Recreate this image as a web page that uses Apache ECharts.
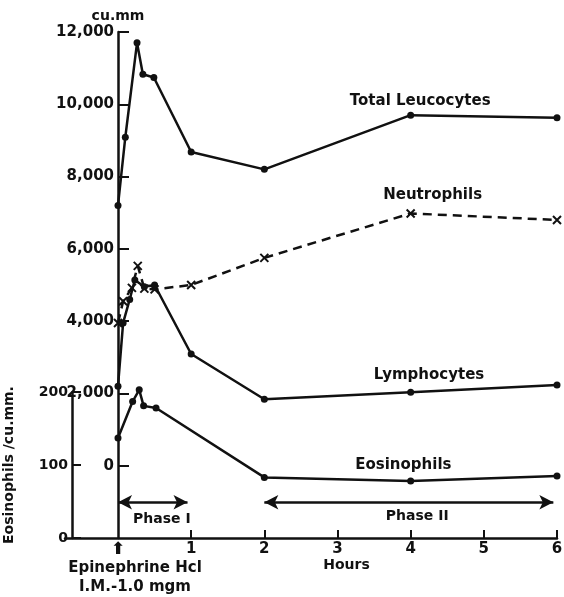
<!DOCTYPE html>
<html>
<head>
<meta charset="utf-8">
<script src="https://cdn.jsdelivr.net/npm/echarts@6/dist/echarts.min.js"></script>
<style>html,body{margin:0;padding:0;background:#fff;}#c{width:564px;height:597px;}</style>
</head>
<body>
<div id="c"></div>
<script>
// ---- data ----
const leucHours  = [0, 0.1, 0.26, 0.34, 0.49, 1, 2, 4, 6];
const leucocytes = [7200, 9090, 11700, 10830, 10740, 8680, 8200, 9700, 9630];

const neutHours   = [0, 0.07, 0.19, 0.27, 0.36, 0.5, 1, 2, 4, 6];
const neutrophils = [3950, 4550, 4920, 5530, 4900, 4880, 5000, 5750, 6980, 6800];

const lymphHours  = [0, 0.07, 0.16, 0.23, 0.36, 0.5, 1, 2, 4, 6];
const lymphocytes = [2200, 3950, 4600, 5140, 4950, 5000, 3090, 1840, 2030, 2230];

const eosHours    = [0, 0.2, 0.29, 0.35, 0.52, 2, 4, 6];
const eosinophils = [137, 187, 203, 181, 178, 83, 78, 85];

const mainTicks = [0, 2000, 4000, 6000, 8000, 10000, 12000];
const hourTicks = [1, 2, 3, 4, 5, 6];

const seriesLabels = ['Total Leucocytes', 'Neutrophils', 'Lymphocytes', 'Eosinophils'];
const phaseLabels  = ['Phase I', 'Phase II'];
const phaseRanges  = [[0, 0.95], [2, 5.95]];
const doseText     = ['Epinephrine Hcl', 'I.M.-1.0 mgm'];

const zip = (xs, ys) => xs.map((x, i) => [x, ys[i]]);
const FONT = 'DejaVu Sans';
const black = '#111';

const labelPoint = (name, coord, size) => ({
  coord: coord,
  symbol: 'rect', symbolSize: 1,
  itemStyle: {color: 'rgba(0,0,0,0)'},
  label: {show: true, position: 'inside', formatter: name, color: black,
          fontFamily: FONT, fontWeight: 'bold', fontSize: size || 15}
});

const lineBase = {
  type: 'line', symbol: 'circle', symbolSize: 7,
  lineStyle: {color: black, width: 2.5},
  itemStyle: {color: black},
  silent: true
};

const chart = echarts.init(document.getElementById('c'), null, {renderer: 'canvas'});
chart.setOption({
  animation: false,
  backgroundColor: '#fff',
  grid: [
    {left: 65, right: 7, top: 32, bottom: 59, outerBoundsMode: 'none'},
    {left: 72, right: 7, top: 392, bottom: 59, outerBoundsMode: 'none'}
  ],
  xAxis: [
    {
      gridIndex: 0, type: 'value', min: -0.7244, max: 6,
      splitLine: {show: false},
      axisLine: {onZero: false, lineStyle: {color: black, width: 2.5}},
      axisTick: {show: true, inside: true, length: 8, customValues: hourTicks,
                 lineStyle: {color: black, width: 2}},
      axisLabel: {
        customValues: [0].concat(hourTicks),
        margin: 3, color: black, fontFamily: FONT, fontWeight: 'bold', fontSize: 15,
        lineHeight: 16,
        formatter: function (v) {
          if (v === 0) return '{ar|⬆}';
          if (v === 3) return '3\n{h|Hours}';
          return String(v);
        },
        rich: {
          ar: {fontSize: 17, fontWeight: 'bold', lineHeight: 17, color: black, fontFamily: FONT},
          h:  {fontSize: 14, fontWeight: 'bold', lineHeight: 16, color: black, fontFamily: FONT,
               padding: [0, 0, 0, 18]}
        }
      }
    },
    {
      gridIndex: 1, type: 'value', min: -0.6287, max: 6,
      splitLine: {show: false}, axisLine: {show: false}, axisTick: {show: false},
      axisLabel: {
        customValues: [0.232], margin: 21, color: black,
        fontFamily: FONT, fontWeight: 'bold', fontSize: 15, lineHeight: 19,
        formatter: () => doseText.join('\n')
      }
    }
  ],
  yAxis: [
    {
      gridIndex: 0, type: 'value', min: -2000, max: 12000, offset: -53,
      name: 'cu.mm', nameLocation: 'end', nameGap: 9,
      nameTextStyle: {color: black, fontFamily: FONT, fontWeight: 'bold', fontSize: 14},
      splitLine: {show: false},
      axisLine: {onZero: false, lineStyle: {color: black, width: 2.5}},
      axisTick: {inside: true, length: 11, customValues: mainTicks,
                 lineStyle: {color: black, width: 2}},
      axisLabel: {
        customValues: mainTicks, margin: 4, color: black,
        fontFamily: FONT, fontWeight: 'bold', fontSize: 15,
        formatter: v => v.toLocaleString('en-US')
      }
    },
    {
      gridIndex: 1, type: 'value', min: 0, max: 200, interval: 100,
      name: 'Eosinophils /cu.mm.', nameLocation: 'middle', nameRotate: 90, nameGap: 56,
      nameTextStyle: {color: black, fontFamily: FONT, fontWeight: 'bold', fontSize: 14},
      splitLine: {show: false},
      axisLine: {onZero: false, lineStyle: {color: black, width: 2.5}},
      axisTick: {inside: true, length: 9, lineStyle: {color: black, width: 2}},
      axisLabel: {margin: 4, color: black, fontFamily: FONT, fontWeight: 'bold', fontSize: 14}
    }
  ],
  series: [
    Object.assign({}, lineBase, {
      name: seriesLabels[0], xAxisIndex: 0, yAxisIndex: 0,
      data: zip(leucHours, leucocytes),
      markPoint: {silent: true, data: [labelPoint(seriesLabels[0], [4.13, 10090])]}
    }),
    Object.assign({}, lineBase, {
      name: seriesLabels[1], xAxisIndex: 0, yAxisIndex: 0,
      data: zip(neutHours, neutrophils),
      symbol: 'path://M0,0L10,10M10,0L0,10', symbolSize: 8,
      lineStyle: {color: black, width: 2.5, type: [9, 6]},
      itemStyle: {color: black, borderColor: black, borderWidth: 2},
      markPoint: {silent: true, data: [labelPoint(seriesLabels[1], [4.3, 7490])]}
    }),
    Object.assign({}, lineBase, {
      name: seriesLabels[2], xAxisIndex: 0, yAxisIndex: 0,
      data: zip(lymphHours, lymphocytes),
      markPoint: {silent: true, data: [labelPoint(seriesLabels[2], [4.25, 2510])]}
    }),
    Object.assign({}, lineBase, {
      name: seriesLabels[3], xAxisIndex: 1, yAxisIndex: 1, clip: false,
      data: zip(eosHours, eosinophils),
      markPoint: {silent: true, data: [
        labelPoint(seriesLabels[3], [3.9, 100]),
        labelPoint(phaseLabels[0], [0.6, 25], 14),
        labelPoint(phaseLabels[1], [4.09, 30], 14)
      ]},
      markLine: {
        silent: true, symbol: ['arrow', 'arrow'], symbolSize: [11, 14],
        lineStyle: {color: black, width: 2.5, type: 'solid'},
        itemStyle: {color: black},
        label: {show: false},
        data: phaseRanges.map(r => [{coord: [r[0], 49]}, {coord: [r[1], 49]}])
      }
    })
  ]
});
</script>
</body>
</html>
